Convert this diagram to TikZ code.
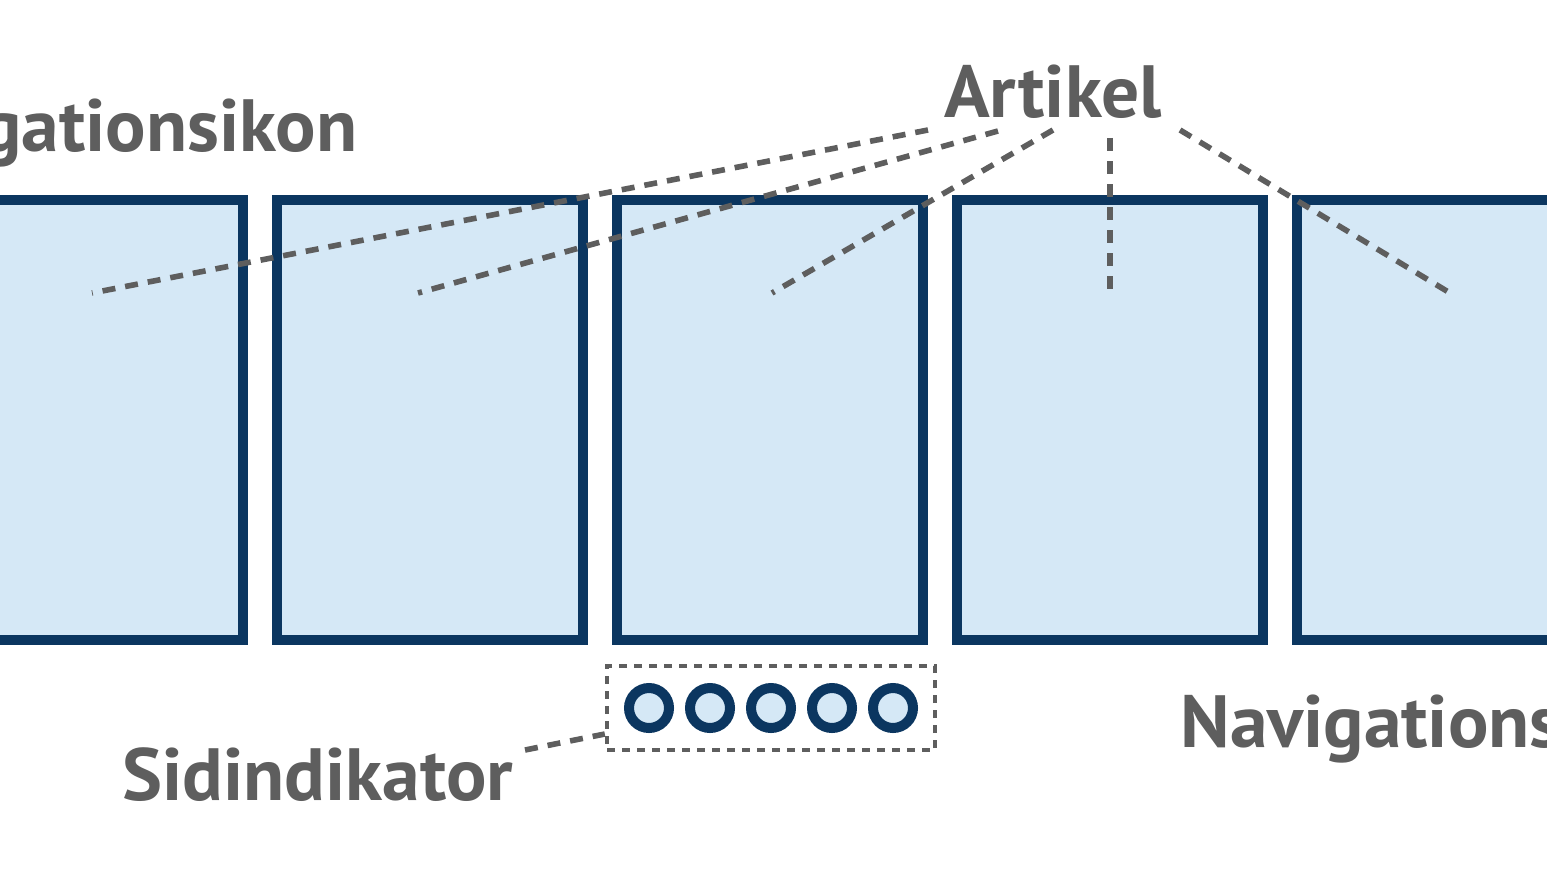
\documentclass[tikz,border=0pt]{standalone}
\usepackage{fontspec}
\setmainfont{PT Sans}
\usetikzlibrary{positioning,fit}
\definecolor{panelblue}{RGB}{213,232,246}
\definecolor{paneledge}{RGB}{11,54,96}
\definecolor{labelgray}{RGB}{94,94,94}

\begin{document}
\begin{tikzpicture}[x=0.5pt,y=-0.5pt,node distance=17pt]
\tikzstyle{panel}=[draw=paneledge,fill=panelblue,line width=5pt,outer sep=0pt,inner sep=0pt,minimum width=153pt,minimum height=220pt]
\tikzstyle{pagedot}=[circle,draw=paneledge,fill=panelblue,line width=5pt,inner sep=0pt,minimum size=20pt]
\tikzstyle{dotframe}=[draw=labelgray,line width=2.2pt,dash pattern=on 4pt off 3.5pt,inner sep=8.5pt]
\tikzstyle{leader}=[draw=labelgray,line width=2.8pt,dash pattern=on 6.5pt off 5pt]
\tikzstyle{caption}=[text=labelgray,inner sep=0pt,xscale=1.02,transform shape,font=\bfseries\fontsize{37}{40}\selectfont]
\useasboundingbox (0,0) rectangle (1547,872);
\clip (0,0) rectangle (1547,872);
% article panels
\node[panel] (art1) at (90,420) {};
\node[panel,right=of art1] (art2) {};
\node[panel,right=of art2] (art3) {};
\node[panel,right=of art3] (art4) {};
\node[panel,right=of art4] (art5) {};
% page indicator
\foreach \i/\x in {1/649,2/710,3/771,4/832,5/893}
  \node[pagedot] (dot\i) at (\x,708) {};
\node[dotframe,fit=(dot1)(dot5)] (dotbox) {};
% labels
\node[caption,anchor=base] (artikel) at (1053,118) {Artikel};
\node[caption,anchor=base east] (navtop) at (358,152) {Navigationsikon};
\node[caption,anchor=base west] (navbottom) at (1180,747) {Navigationsikon};
\node[caption,anchor=base west] (sidi) at (122,800) {Sidindikator};
% leader ends
\coordinate (from1) at (928,130);
\coordinate (from2) at (998,131);
\coordinate (from3) at (1053,130);
\coordinate (from4) at (1110,138);
\coordinate (from5) at (1180,130);
\coordinate (to1) at (92,293);
\coordinate (to2) at (418,293);
\coordinate (to3) at (772,293);
\coordinate (to4) at (1110,293);
\coordinate (to5) at (1450,293);
\coordinate (sidiend) at (525,750);
\foreach \i in {1,...,5}
  \draw[leader] (from\i) -- (to\i);
\draw[leader] (sidiend) -- ([yshift=-13pt]dotbox.west);
\end{tikzpicture}
\end{document}
